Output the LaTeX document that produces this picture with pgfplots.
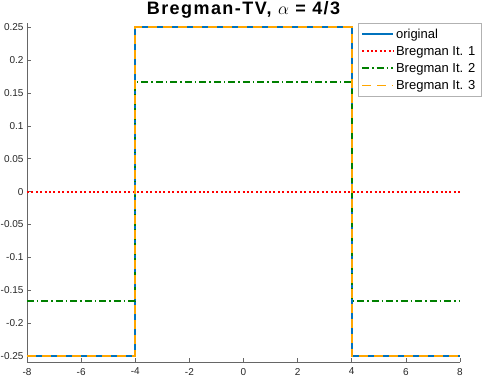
\documentclass[border=0pt]{standalone}
\usepackage{pgfplots}
\pgfplotsset{compat=1.18}
\usepackage{fontspec}
\setmainfont{Liberation Sans}
\definecolor{mblue}{rgb}{0,0.447,0.741}
\definecolor{mgreen}{rgb}{0,0.5,0}
\definecolor{mred}{rgb}{1,0,0}
\definecolor{morange}{rgb}{1,0.65,0}
\definecolor{axgray}{rgb}{0.15,0.15,0.15}
\begin{document}
\begin{tikzpicture}
\begin{axis}[
  scale only axis, width=433pt, height=339pt,
  at={(0,0)}, anchor=south west,
  xmin=-8, xmax=8, ymin=-0.259, ymax=0.2565,
  axis x line*=bottom, axis y line*=left,
  axis line style={draw=gray!80!black, line width=0.6pt},
  tick align=inside, major tick length=4pt,
  tick style={draw=gray!80!black, line width=0.6pt},
  xtick={-8,-6,-4,-2,0,2,4,6,8},
  xticklabels={-8,-6,-4,-2,0,2,4,6,8},
  ytick={-0.25,-0.2,-0.15,-0.1,-0.05,0,0.05,0.1,0.15,0.2,0.25},
  yticklabels={-0.25,-0.2,-0.15,-0.1,-0.05,0,0.05,0.1,0.15,0.2,0.25},
  tick label style={font=\fontsize{10}{11}\selectfont, text=axgray},
  xticklabel style={yshift=-2.5pt},
  title={\addfontfeature{LetterSpace=8}\bfseries Bregman-TV, $\alpha$ = 4/3},
  title style={font=\fontsize{18}{20}\selectfont, at={(rel axis cs:0.5,1)}, anchor=base, yshift=2pt},
  legend style={at={(rel axis cs:1.0485,1.0)}, anchor=north east,
    font=\fontsize{13}{15}\selectfont, draw=gray!60, fill=white,
    inner sep=3.5pt, row sep=2.5pt},
  legend cell align=left,
  legend image code/.code={\draw[#1] (0pt,0pt) -- (31pt,0pt);},
]
\addplot[mblue, line width=1.8pt] coordinates {(-8,-0.25) (-4,-0.25) (-4,0.25) (4,0.25) (4,-0.25) (8,-0.25)};
\addlegendentry{original}
\addplot[draw=mred, line width=1.8pt, dash pattern=on 2pt off 2.4pt] coordinates {(-8,0) (8,0)};
\addlegendentry{Bregman It. 1}
\addplot[draw=mgreen, line width=1.8pt, dash pattern=on 7pt off 3pt on 1.5pt off 3pt] coordinates {(-8,-0.16667) (-4,-0.16667) (-4,0.16667) (4,0.16667) (4,-0.16667) (8,-0.16667)};
\addlegendentry{Bregman It. 2}
\addplot[draw=morange, line width=1.8pt, dash pattern=on 9pt off 6pt] coordinates {(-8,-0.25) (-4,-0.25) (-4,0.25) (4,0.25) (4,-0.25) (8,-0.25)};
\addlegendentry{Bregman It. 3}
\end{axis}
\pgfresetboundingbox
\path[use as bounding box] (-27pt,-15pt) rectangle (458pt,362pt);
\end{tikzpicture}
\end{document}
